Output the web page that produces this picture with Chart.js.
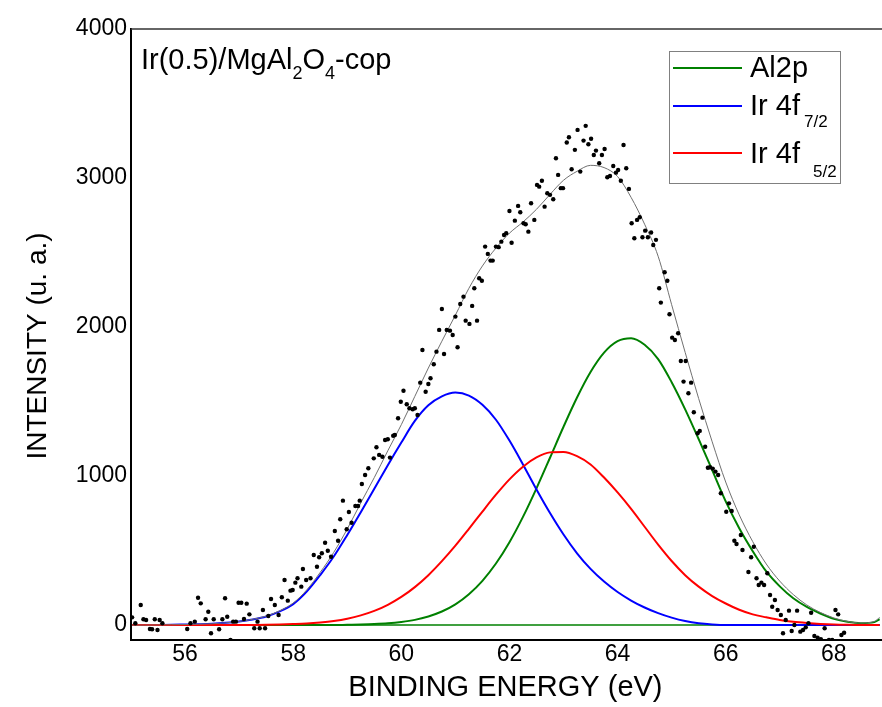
<!DOCTYPE html>
<html><head><meta charset="utf-8">
<script src="https://cdn.jsdelivr.net/npm/chart.js@4.4.1/dist/chart.umd.min.js"></script>
<style>html,body{margin:0;padding:0;background:#fff;}#wrap{position:relative;width:882px;height:707px;}</style>
</head><body><div id="wrap"><canvas id="c" width="882" height="707"></canvas></div>
<script>
// ---- data ----
const xTicks = [56, 58, 60, 62, 64, 66, 68];
const yTicks = [0, 1000, 2000, 3000, 4000];
const xTitle = 'BINDING ENERGY (eV)';
const yTitle = 'INTENSITY (u. a.)';
const seriesNames = ['Al2p', 'Ir 4f', 'Ir 4f'];
const seriesSubs = ['', '7/2', '5/2'];
const sampleLabel = ['Ir(0.5)/MgAl', '2', 'O', '4', '-cop'];

const curveX = [55.00,55.25,55.50,55.75,56.00,56.25,56.50,56.75,57.00,57.25,57.50,57.75,58.00,58.25,58.50,58.75,59.00,59.25,59.50,59.75,60.00,60.25,60.50,60.75,61.00,61.25,61.50,61.75,62.00,62.25,62.50,62.75,63.00,63.25,63.50,63.75,64.00,64.25,64.50,64.75,65.00,65.25,65.50,65.75,66.00,66.25,66.50,66.75,67.00,67.25,67.50,67.75,68.00,68.25,68.50,68.75,68.85];
const al2p = [0,0,0,0,0,0,0,0,0,0,0,0,0,0,0,0,2,4,7,12,21,35,58,91,139,207,297,413,556,726,918,1123,1331,1527,1698,1828,1905,1925,1881,1785,1630,1448,1248,1040,830,650,496,360,260,180,122,78,42,22,13,20,40];
const ir72 = [0,0,1,2,4,6,9,15,24,38,58,92,141,225,336,460,605,758,915,1073,1225,1370,1475,1535,1560,1540,1478,1378,1238,1078,910,752,608,482,377,292,222,165,118,80,50,27,12,4,0,0,0,0,0,0,0,0,0,0,0,0,0];
const ir52 = [0,0,0,0,0,0,0,0,0,1,2,4,7,11,18,28,43,65,95,136,189,255,335,429,533,646,762,875,978,1063,1125,1159,1162,1134,1078,990,890,780,660,540,430,335,258,195,145,103,72,52,34,22,14,8,4,2,1,0,0];
const envelope = [0,0,1,2,4,6,9,15,24,39,60,96,148,236,354,488,645,820,990,1170,1345,1535,1725,1905,2080,2260,2410,2530,2630,2705,2790,2890,2985,3045,3085,3070,3010,2870,2690,2475,2150,1830,1520,1230,960,740,560,410,295,205,135,85,48,25,14,25,52];
const baseX = [55, 68.85];
const baseY = [0, 0];

const dotX = [55.02,55.08,55.18,55.23,55.28,55.35,55.39,55.44,55.49,55.53,55.58,56.04,56.10,56.18,56.24,56.29,56.38,56.43,56.48,56.53,56.63,56.69,56.74,56.78,56.84,56.89,56.94,56.99,57.04,57.09,57.14,57.19,57.28,57.34,57.38,57.44,57.48,57.54,57.59,57.66,57.73,57.79,57.84,57.90,57.95,57.99,58.04,58.08,58.15,58.18,58.24,58.32,58.38,58.44,58.48,58.53,58.59,58.64,58.70,58.77,58.83,58.87,58.92,58.99,59.03,59.08,59.15,59.20,59.23,59.27,59.33,59.39,59.49,59.54,59.59,59.65,59.70,59.75,59.79,59.85,59.88,59.94,59.99,60.04,60.10,60.15,60.21,60.25,60.30,60.35,60.39,60.45,60.50,60.54,60.60,60.65,60.70,60.75,60.79,60.84,60.90,60.95,61.00,61.04,61.09,61.15,61.19,61.26,61.31,61.35,61.40,61.44,61.49,61.55,61.60,61.65,61.69,61.75,61.80,61.85,61.90,61.94,62.00,62.04,62.10,62.16,62.20,62.26,62.30,62.35,62.40,62.46,62.51,62.55,62.60,62.65,62.70,62.75,62.81,62.86,62.90,62.95,62.99,63.06,63.10,63.15,63.21,63.26,63.31,63.37,63.41,63.46,63.51,63.56,63.60,63.66,63.71,63.76,63.81,63.86,63.92,63.97,64.01,64.06,64.11,64.16,64.21,64.26,64.31,64.36,64.41,64.46,64.51,64.56,64.62,64.66,64.71,64.77,64.80,64.87,64.92,64.96,65.01,65.06,65.12,65.17,65.22,65.26,65.31,65.36,65.41,65.48,65.52,65.57,65.62,65.67,65.71,65.76,65.81,65.86,65.91,66.01,66.06,66.11,66.16,66.20,66.28,66.31,66.42,66.47,66.52,66.57,66.61,66.66,66.71,66.77,66.82,66.86,66.91,66.96,67.02,67.06,67.11,67.17,67.22,67.27,67.32,67.38,67.43,67.48,67.53,67.58,67.64,67.70,67.76,67.83,67.91,67.97,68.03,68.08,68.14,68.19];
const dotY = [52,12,135,39,34,-26,-28,39,-33,34,12,-26,12,23,184,146,39,90,-55,39,-28,39,180,56,-100,23,23,150,150,41,144,72,-21,23,-21,101,-21,61,175,135,68,187,303,164,231,236,285,314,258,376,303,314,470,392,455,482,553,499,459,631,566,710,835,643,759,687,799,799,835,947,1007,1052,1119,1193,1142,1130,1242,1247,1124,1271,1276,1388,1499,1573,1482,1455,1448,1455,1410,1627,1846,1566,1618,1656,1750,1835,1981,2121,1819,1981,1976,1947,2070,1864,2155,2204,2043,2021,2142,2260,2043,2327,2311,2540,2491,2446,2446,2540,2536,2573,2618,2630,2779,2566,2714,2813,2770,2697,2690,2640,2831,2719,2954,2942,2982,2808,2898,2887,2858,3133,3021,2932,2932,3238,3274,3059,3189,3323,3043,3251,3350,3227,3264,3155,3184,3099,3155,3195,3005,3014,3081,3036,3054,2982,3222,3066,2927,2697,2596,2719,2737,2603,2647,2603,2634,2551,2585,2260,2164,2368,2311,2086,1929,1913,1958,1772,1634,1772,1556,1627,1428,1287,1303,1392,1197,1056,1059,1050,1030,1007,885,761,817,766,566,544,605,504,356,455,526,314,269,285,269,348,202,123,168,101,68,-55,34,97,-40,1,97,-44,-33,-15,12,83,-73,-85,-95,-21,-100,-100,101,72,-66,-51];

// ---- styles ----
const FONT = "'Liberation Sans', Arial, sans-serif";
const GREEN = '#008000', BLUE = '#0000ff', RED = '#ff0000';
const seriesColors = [GREEN, BLUE, RED];

const pts = (xs, ys) => xs.map((x, i) => ({x: x, y: ys[i]}));

const overlay = {
  id: 'overlay',
  afterDraw(chart) {
    const {ctx, chartArea: a} = chart;
    ctx.save();
    // frame
    ctx.strokeStyle = '#000';
    ctx.lineWidth = 2;
    ctx.beginPath();
    ctx.moveTo(a.left, a.top - 1); ctx.lineTo(a.left, a.bottom + 1);
    ctx.moveTo(a.left - 1, a.bottom); ctx.lineTo(882, a.bottom);
    ctx.stroke();
    ctx.strokeStyle = '#333';
    ctx.lineWidth = 1.5;
    ctx.beginPath();
    ctx.moveTo(a.left, a.top); ctx.lineTo(882, a.top);
    ctx.stroke();

    // y axis title
    ctx.save();
    ctx.translate(38, 346);
    ctx.rotate(-Math.PI / 2);
    ctx.fillStyle = '#000';
    ctx.font = '28px ' + FONT;
    ctx.textAlign = 'center';
    ctx.textBaseline = 'middle';
    ctx.fillText(yTitle, 0, 0);
    ctx.restore();

    // sample label with subscripts
    ctx.fillStyle = '#000';
    ctx.textBaseline = 'alphabetic';
    ctx.textAlign = 'left';
    let x = 141;
    const base = 69;
    sampleLabel.forEach((t, i) => {
      const sub = (i === 1 || i === 3);
      ctx.font = (sub ? '18px ' : '29px ') + FONT;
      ctx.fillText(t, x, sub ? base + 10 : base);
      x += ctx.measureText(t).width;
    });

    // legend box
    ctx.strokeStyle = '#808080';
    ctx.lineWidth = 1;
    ctx.strokeRect(669.5, 51.5, 171, 132);
    const lineY = [68, 106, 153];
    const textY = [77, 115, 163];
    const subGap = [0, 4, 13];
    const subY = [0, 127, 177];
    seriesNames.forEach((name, i) => {
      ctx.strokeStyle = seriesColors[i];
      ctx.lineWidth = 2;
      ctx.beginPath();
      ctx.moveTo(673, lineY[i]); ctx.lineTo(742, lineY[i]);
      ctx.stroke();
      ctx.fillStyle = '#000';
      ctx.font = '29px ' + FONT;
      ctx.fillText(name, 750, textY[i]);
      if (seriesSubs[i]) {
        const w = ctx.measureText(name).width;
        ctx.font = '17px ' + FONT;
        ctx.fillText(seriesSubs[i], 750 + w + subGap[i], subY[i]);
      }
    });
    ctx.restore();
  }
};

new Chart(document.getElementById('c'), {
  type: 'line',
  data: {
    datasets: [
      {label: 'data', data: pts(dotX, dotY), showLine: false, pointRadius: 2.2, pointHoverRadius: 2.2,
       pointBackgroundColor: '#000', pointBorderWidth: 0, order: 0},
      {label: 'fit', data: pts(curveX, envelope), borderColor: '#707070', borderWidth: 1, pointRadius: 0,
       cubicInterpolationMode: 'monotone', order: 1},
      {label: 'Ir 4f5/2', data: pts(curveX, ir52), borderColor: RED, borderWidth: 2, pointRadius: 0,
       cubicInterpolationMode: 'monotone', order: 2},
      {label: 'Ir 4f7/2', data: pts(curveX, ir72), borderColor: BLUE, borderWidth: 2, pointRadius: 0,
       cubicInterpolationMode: 'monotone', order: 3},
      {label: 'Al2p', data: pts(curveX, al2p), borderColor: GREEN, borderWidth: 2, pointRadius: 0,
       cubicInterpolationMode: 'monotone', order: 4},
      {label: 'baseline', data: pts(baseX, baseY), borderColor: GREEN, borderWidth: 1.5, pointRadius: 0, order: 5}
    ]
  },
  options: {
    responsive: false,
    devicePixelRatio: 1,
    animation: false,
    events: [],
    layout: {padding: {left: 0, right: 1, top: 29, bottom: 0}},
    plugins: {legend: {display: false}, tooltip: {enabled: false}},
    scales: {
      x: {
        type: 'linear', min: 55, max: 68.85,
        afterBuildTicks: s => { s.ticks = xTicks.map(v => ({value: v})); },
        afterFit: s => { s.height = 67; },
        grid: {display: false, drawTicks: false},
        border: {display: false},
        ticks: {color: '#000', padding: 1, font: {family: FONT, size: 23}, callback: v => String(v)},
        title: {display: true, text: xTitle, color: '#000', font: {family: FONT, size: 29},
                padding: {top: 0, bottom: 2}}
      },
      y: {
        type: 'linear', min: -100, max: 4000,
        afterBuildTicks: s => { s.ticks = yTicks.map(v => ({value: v})); },
        afterFit: s => { s.width = 131; },
        grid: {display: false, drawTicks: false},
        border: {display: false},
        ticks: {color: '#000', padding: 4, font: {family: FONT, size: 23}, callback: v => String(v)},
        title: {display: false, text: yTitle}
      }
    }
  },
  plugins: [overlay]
});
</script></body></html>
